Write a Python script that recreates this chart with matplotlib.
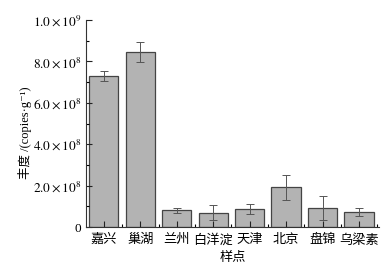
import numpy as np
import matplotlib.pyplot as plt
from matplotlib.ticker import FixedLocator, FuncFormatter

plt.rcParams['font.family'] = ['Liberation Serif', 'Noto Sans CJK SC', 'DejaVu Sans']
plt.rcParams['mathtext.fontset'] = 'stix'

sites = ['嘉兴', '巢湖', '兰州', '白洋淀', '天津', '北京', '盘锦', '乌梁素']
abundance = [7.30e8, 8.45e8, 0.80e8, 0.68e8, 0.89e8, 1.92e8, 0.92e8, 0.74e8]
errors = [0.25e8, 0.48e8, 0.12e8, 0.36e8, 0.24e8, 0.61e8, 0.60e8, 0.20e8]

fig = plt.figure(figsize=(3.89, 2.75), dpi=100)
ax = fig.add_axes([86 / 389, 1 - 227 / 275, (379 - 86) / 389, (227 - 20) / 275])

x = np.arange(len(sites))
ax.bar(x, abundance, width=0.8, color='#b3b3b3', edgecolor='#444444', linewidth=0.9)
ax.errorbar(x, abundance, yerr=errors, fmt='none', ecolor='#555555',
            elinewidth=0.7, capsize=3, capthick=0.7)

ax.set_xlim(-0.49, 7.55)
ax.set_ylim(0, 1.0e9)


def sci(v, pos):
    if v <= 0:
        return '0'
    exp = int(np.floor(np.log10(v) + 1e-9))
    return r'${:.1f}\times10^{{{}}}$'.format(v / 10 ** exp, exp)


ax.yaxis.set_major_locator(FixedLocator(np.arange(0, 1.01e9, 2e8)))
ax.yaxis.set_minor_locator(FixedLocator(np.arange(1e8, 1.0e9, 2e8)))
ax.yaxis.set_major_formatter(FuncFormatter(sci))
ax.set_xticks(x)
ax.set_xticklabels(sites, fontsize=9.5)
ax.xaxis.set_minor_locator(FixedLocator(np.arange(-0.5, 8, 1)))
ax.tick_params(axis='both', direction='in', length=4, width=0.8, labelsize=9.5, color='#222222')
ax.tick_params(axis='both', which='minor', direction='in', length=2, width=0.8)
ax.tick_params(axis='x', pad=5)

for s in ['top', 'right']:
    ax.spines[s].set_visible(False)
for s in ['left', 'bottom']:
    ax.spines[s].set_linewidth(0.8)
    ax.spines[s].set_color('#333333')

ax.set_ylabel('丰度 /(copies·g⁻¹)', fontsize=9)
ax.yaxis.set_label_coords(-0.185, 0.455)
ax.set_xlabel('样点', fontsize=9.5, labelpad=4)

fig.savefig('out.png', dpi=100)
